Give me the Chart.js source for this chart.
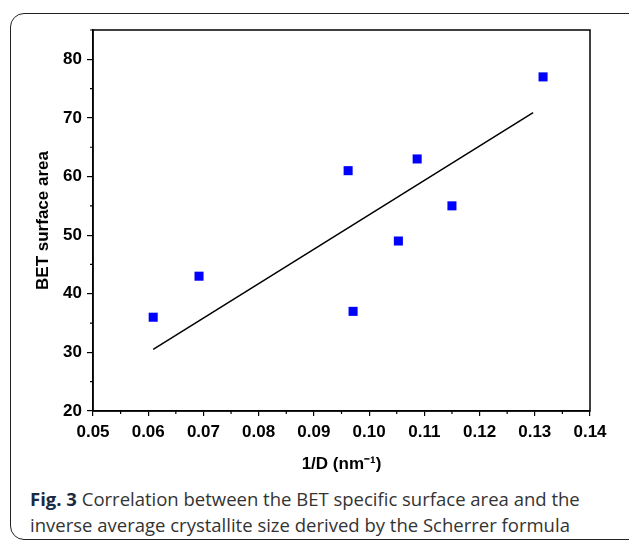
<!DOCTYPE html>
<html>
<head>
<meta charset="utf-8">
<script src="https://cdn.jsdelivr.net/npm/chart.js@4/dist/chart.umd.min.js"></script>
<style>
  html, body { margin: 0; padding: 0; background: #fff; }
  body { width: 629px; height: 542px; position: relative; overflow: hidden; }
  .frame {
    position: absolute; left: 10px; top: 13px; width: 640px; height: 527px;
    border: 1.5px solid #222; border-radius: 14px; box-sizing: border-box;
  }
  #wrap { position: absolute; left: 0; top: 0; width: 629px; height: 480px; }
  .caption {
    position: absolute; left: 30px; top: 486px; width: 590px;
    font-family: "Open Sans", sans-serif; font-size: 18.5px; line-height: 26px;
    color: #333;
  }
  .caption b { color: #1a2a40; font-weight: 700; }
</style>
</head>
<body>
<div class="frame"></div>
<div id="wrap"><canvas id="chart"></canvas></div>
<div class="caption"><b>Fig. 3</b> Correlation between the BET specific surface area and the inverse average crystallite size derived by the Scherrer formula</div>
<script>
// measured points
const invD = [0.0609, 0.0692, 0.0962, 0.0971, 0.1053, 0.1087, 0.1150, 0.1315];
const betArea = [36, 43, 61, 37, 49, 63, 55, 77];

// linear fit as drawn
const fitX = [0.0609, 0.1297];
const fitY = [30.5, 70.9];

const xTicks = [0.05, 0.06, 0.07, 0.08, 0.09, 0.10, 0.11, 0.12, 0.13, 0.14];
const yTicks = [20, 30, 40, 50, 60, 70, 80];
const xMinor = [0.055, 0.065, 0.075, 0.085, 0.095, 0.105, 0.115, 0.125, 0.135];
const yMinor = [25, 35, 45, 55, 65, 75, 85];

const tickFont = { family: 'Liberation Sans', size: 17, weight: 'bold' };
const titleFont = { family: 'Liberation Sans', size: 17, weight: 'bold' };

// box + minor ticks
const frameBox = {
  id: 'frameBox',
  afterDraw(chart) {
    const { ctx, chartArea: a, scales } = chart;
    ctx.save();
    ctx.strokeStyle = '#000';
    ctx.lineWidth = 1.5;
    ctx.strokeRect(a.left, a.top, a.right - a.left, a.bottom - a.top);
    ctx.lineWidth = 1.2;
    ctx.beginPath();
    xMinor.forEach(v => {
      const px = scales.x.getPixelForValue(v);
      ctx.moveTo(px, a.bottom);
      ctx.lineTo(px, a.bottom + 3);
    });
    yMinor.forEach(v => {
      const py = scales.y.getPixelForValue(v);
      ctx.moveTo(a.left, py);
      ctx.lineTo(a.left - 3, py);
    });
    ctx.stroke();
    ctx.restore();
  }
};

const ctx = document.getElementById('chart').getContext('2d');
new Chart(ctx, {
  type: 'scatter',
  data: {
    datasets: [
      {
        label: 'BET',
        data: invD.map((x, i) => ({ x: x, y: betArea[i] })),
        pointStyle: 'rect',
        pointRadius: 6.4,
        pointHoverRadius: 6.4,
        backgroundColor: '#0000ff',
        borderWidth: 0
      },
      {
        type: 'line',
        label: 'fit',
        data: fitX.map((x, i) => ({ x: x, y: fitY[i] })),
        borderColor: '#000',
        borderWidth: 1.5,
        pointRadius: 0,
        fill: false
      }
    ]
  },
  options: {
    responsive: true,
    maintainAspectRatio: false,
    animation: false,
    layout: { padding: { top: 30, right: 39, left: 33, bottom: 0 } },
    plugins: { legend: { display: false }, tooltip: { enabled: false } },
    scales: {
      x: {
        type: 'linear',
        min: 0.05, max: 0.14,
        afterBuildTicks: s => { s.ticks = xTicks.map(v => ({ value: v })); },
        afterFit: s => { s.height = 69; },
        grid: { drawOnChartArea: false, drawTicks: true, tickLength: 5, color: '#000', lineWidth: 1.2 },
        border: { display: true, color: '#000', width: 1.5 },
        ticks: { color: '#000', font: tickFont, padding: 6, maxRotation: 0, callback: v => v.toFixed(2) },
        title: { display: true, text: '1/D (nm\u207B\u00B9)', color: '#000', font: titleFont, padding: { top: 2, bottom: 5 } }
      },
      y: {
        type: 'linear',
        min: 20, max: 85,
        afterBuildTicks: s => { s.ticks = yTicks.map(v => ({ value: v })); },
        afterFit: s => { s.width = 60; },
        grid: { drawOnChartArea: false, drawTicks: true, tickLength: 6, color: '#000', lineWidth: 1.2 },
        border: { display: true, color: '#000', width: 1.5 },
        ticks: { color: '#000', font: tickFont, padding: 5 },
        title: { display: true, text: 'BET surface area', color: '#000', font: titleFont, padding: 0 }
      }
    }
  },
  plugins: [frameBox]
});
</script>
</body>
</html>
